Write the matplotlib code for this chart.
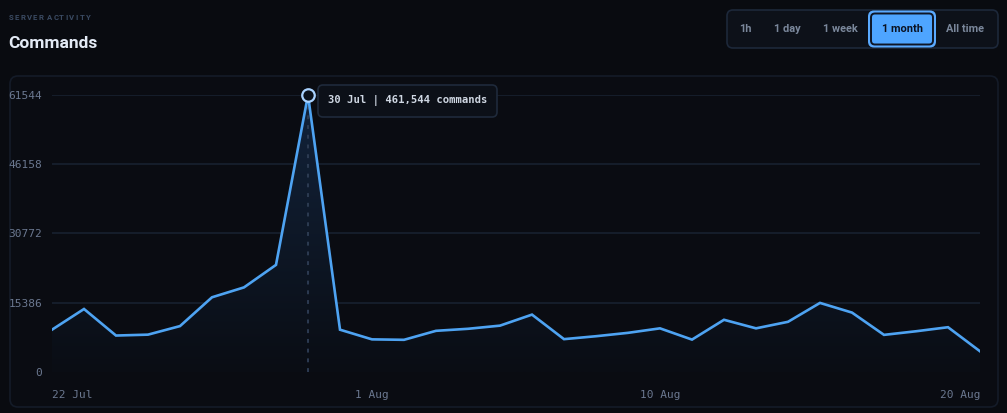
import numpy as np
import matplotlib
matplotlib.use("Agg")
import matplotlib.pyplot as plt
from matplotlib.patches import FancyBboxPatch
from matplotlib.colors import LinearSegmentedColormap

# data: daily command counts, 22 Jul .. 20 Aug
days = ["22 Jul", "23 Jul", "24 Jul", "25 Jul", "26 Jul", "27 Jul", "28 Jul", "29 Jul",
        "30 Jul", "31 Jul", "1 Aug", "2 Aug", "3 Aug", "4 Aug", "5 Aug", "6 Aug",
        "7 Aug", "8 Aug", "9 Aug", "10 Aug", "11 Aug", "12 Aug", "13 Aug", "14 Aug",
        "15 Aug", "16 Aug", "17 Aug", "18 Aug", "19 Aug", "20 Aug"]
commands = [9400, 14000, 8100, 8300, 10200, 16600, 18800, 23800,
            61544, 9400, 7250, 7150, 9150, 9600, 10300, 12750,
            7300, 7950, 8700, 9700, 7200, 11600, 9700, 11150,
            15350, 13200, 8250, 9050, 9950, 4600]
y_ticks = [0, 15386, 30772, 46158, 61544]
x_tick_labels = ["22 Jul", "1 Aug", "10 Aug", "20 Aug"]
ranges = ["1h", "1 day", "1 week", "1 month", "All time"]
selected_range = "1 month"
tooltip = "30 Jul | 461,544 commands"

BG = "#090b10"
CARD = "#0a0c12"
LINE = "#4ea3f2"
TICK = "#6b7890"
GRID = "#18212f"

W, H = 1007, 413
fig = plt.figure(figsize=(W / 100, H / 100), dpi=100, facecolor=BG)

# overlay in pixel coordinates for card, header and buttons
ov = fig.add_axes([0, 0, 1, 1])
ov.set_xlim(0, W)
ov.set_ylim(H, 0)
ov.axis("off")
ov.set_zorder(0)

ov.add_patch(FancyBboxPatch((10, 76), 988, 331, boxstyle="round,pad=0,rounding_size=8",
                            fc=CARD, ec="#141b28", lw=1.2))

# letter-spaced caption, one glyph at a time
caption = "SERVER ACTIVITY"
cx = 9.0
for ch in caption:
    t = ov.text(cx, 18, ch, fontsize=5.6, fontweight="bold", color="#3b4b63",
                va="center", family="Roboto")
    cx += 3.0 if ch == " " else (4.3 if ch == "I" else 5.9)
ov.text(8, 43, "Commands", fontsize=12.5, fontweight="bold", color="#e3eaf5",
        va="center", family="Roboto")

# range selector
ov.add_patch(FancyBboxPatch((727, 10), 271, 38, boxstyle="round,pad=0,rounding_size=6",
                            fc="#0d1119", ec="#1d283a", lw=1.2))
btn_x = [745, 787, 840, 902, 965]
for label, bx in zip(ranges, btn_x):
    if label == selected_range:
        ov.add_patch(FancyBboxPatch((868, 10.5), 68, 37, boxstyle="round,pad=0,rounding_size=6",
                                    fc="#5aaaff", ec="none"))
        ov.add_patch(FancyBboxPatch((871, 13.5), 62, 31, boxstyle="round,pad=0,rounding_size=4",
                                    fc="#4ea5ff", ec="#0e1626", lw=1.4))
        color = "#0b1322"
    else:
        color = "#7a879b"
    ov.text(bx, 29.5, label, fontsize=7.9, fontweight="bold", color=color,
            ha="center", va="center", family="Roboto")

# chart axes
ax = fig.add_axes([52 / W, 1 - 372 / H, 928 / W, 277 / H])
ax.set_zorder(1)
ax.patch.set_alpha(0)
x = np.arange(len(commands))
ax.set_xlim(0, len(commands) - 1)
ax.set_ylim(0, y_ticks[-1])

for t in y_ticks:
    ax.axhline(t, color=GRID if t else "#1a2231", lw=1.2, zorder=1)

# gradient fill under the line
poly = ax.fill_between(x, commands, 0, color="none", lw=0)
grad = LinearSegmentedColormap.from_list("g", ["#0a0d14", "#12233b"])
img = ax.imshow(np.linspace(0, 1, 256).reshape(-1, 1), cmap=grad, aspect="auto",
                extent=[0, len(commands) - 1, 0, y_ticks[-1]], origin="lower", zorder=2)
img.set_clip_path(poly.get_paths()[0], transform=ax.transData)

peak = int(np.argmax(commands))
ax.plot([peak, peak], [0, commands[peak]], color="#2c3b52", lw=1.4,
        ls=(0, (2, 3)), zorder=3)
ax.plot(x, commands, color=LINE, lw=1.9, zorder=4, solid_joinstyle="miter")
ax.plot(peak, commands[peak], "o", ms=9, mfc="#0b111b", mec="#a9d2ff", mew=1.6,
        zorder=5, clip_on=False)

ax.set_yticks(y_ticks)
ax.set_yticklabels([str(t) for t in y_ticks])
tick_pos = [days.index(d) for d in x_tick_labels]
ax.set_xticks(tick_pos)
ax.set_xticklabels(x_tick_labels)
for lbl, ha in zip(ax.get_xticklabels(), ["left", "center", "center", "right"]):
    lbl.set_ha(ha)
ax.tick_params(length=0, colors=TICK, labelsize=8)
ax.tick_params(axis="x", pad=13)
ax.tick_params(axis="y", pad=7)
for lbl in ax.get_xticklabels() + ax.get_yticklabels():
    lbl.set_family("DejaVu Sans Mono")
for s in ax.spines.values():
    s.set_visible(False)

# tooltip
ov2 = fig.add_axes([0, 0, 1, 1])
ov2.set_xlim(0, W)
ov2.set_ylim(H, 0)
ov2.axis("off")
ov2.set_zorder(2)
ov2.add_patch(FancyBboxPatch((318, 85), 179, 32, boxstyle="round,pad=0,rounding_size=5",
                             fc="#0c1018", ec="#1f2a3b", lw=1.2))
ov2.text(328, 101, tooltip, fontsize=7.6, fontweight="bold", color="#cfd7e3",
         va="center", family="DejaVu Sans Mono")

fig.savefig("out.png", dpi=100, facecolor=BG)
